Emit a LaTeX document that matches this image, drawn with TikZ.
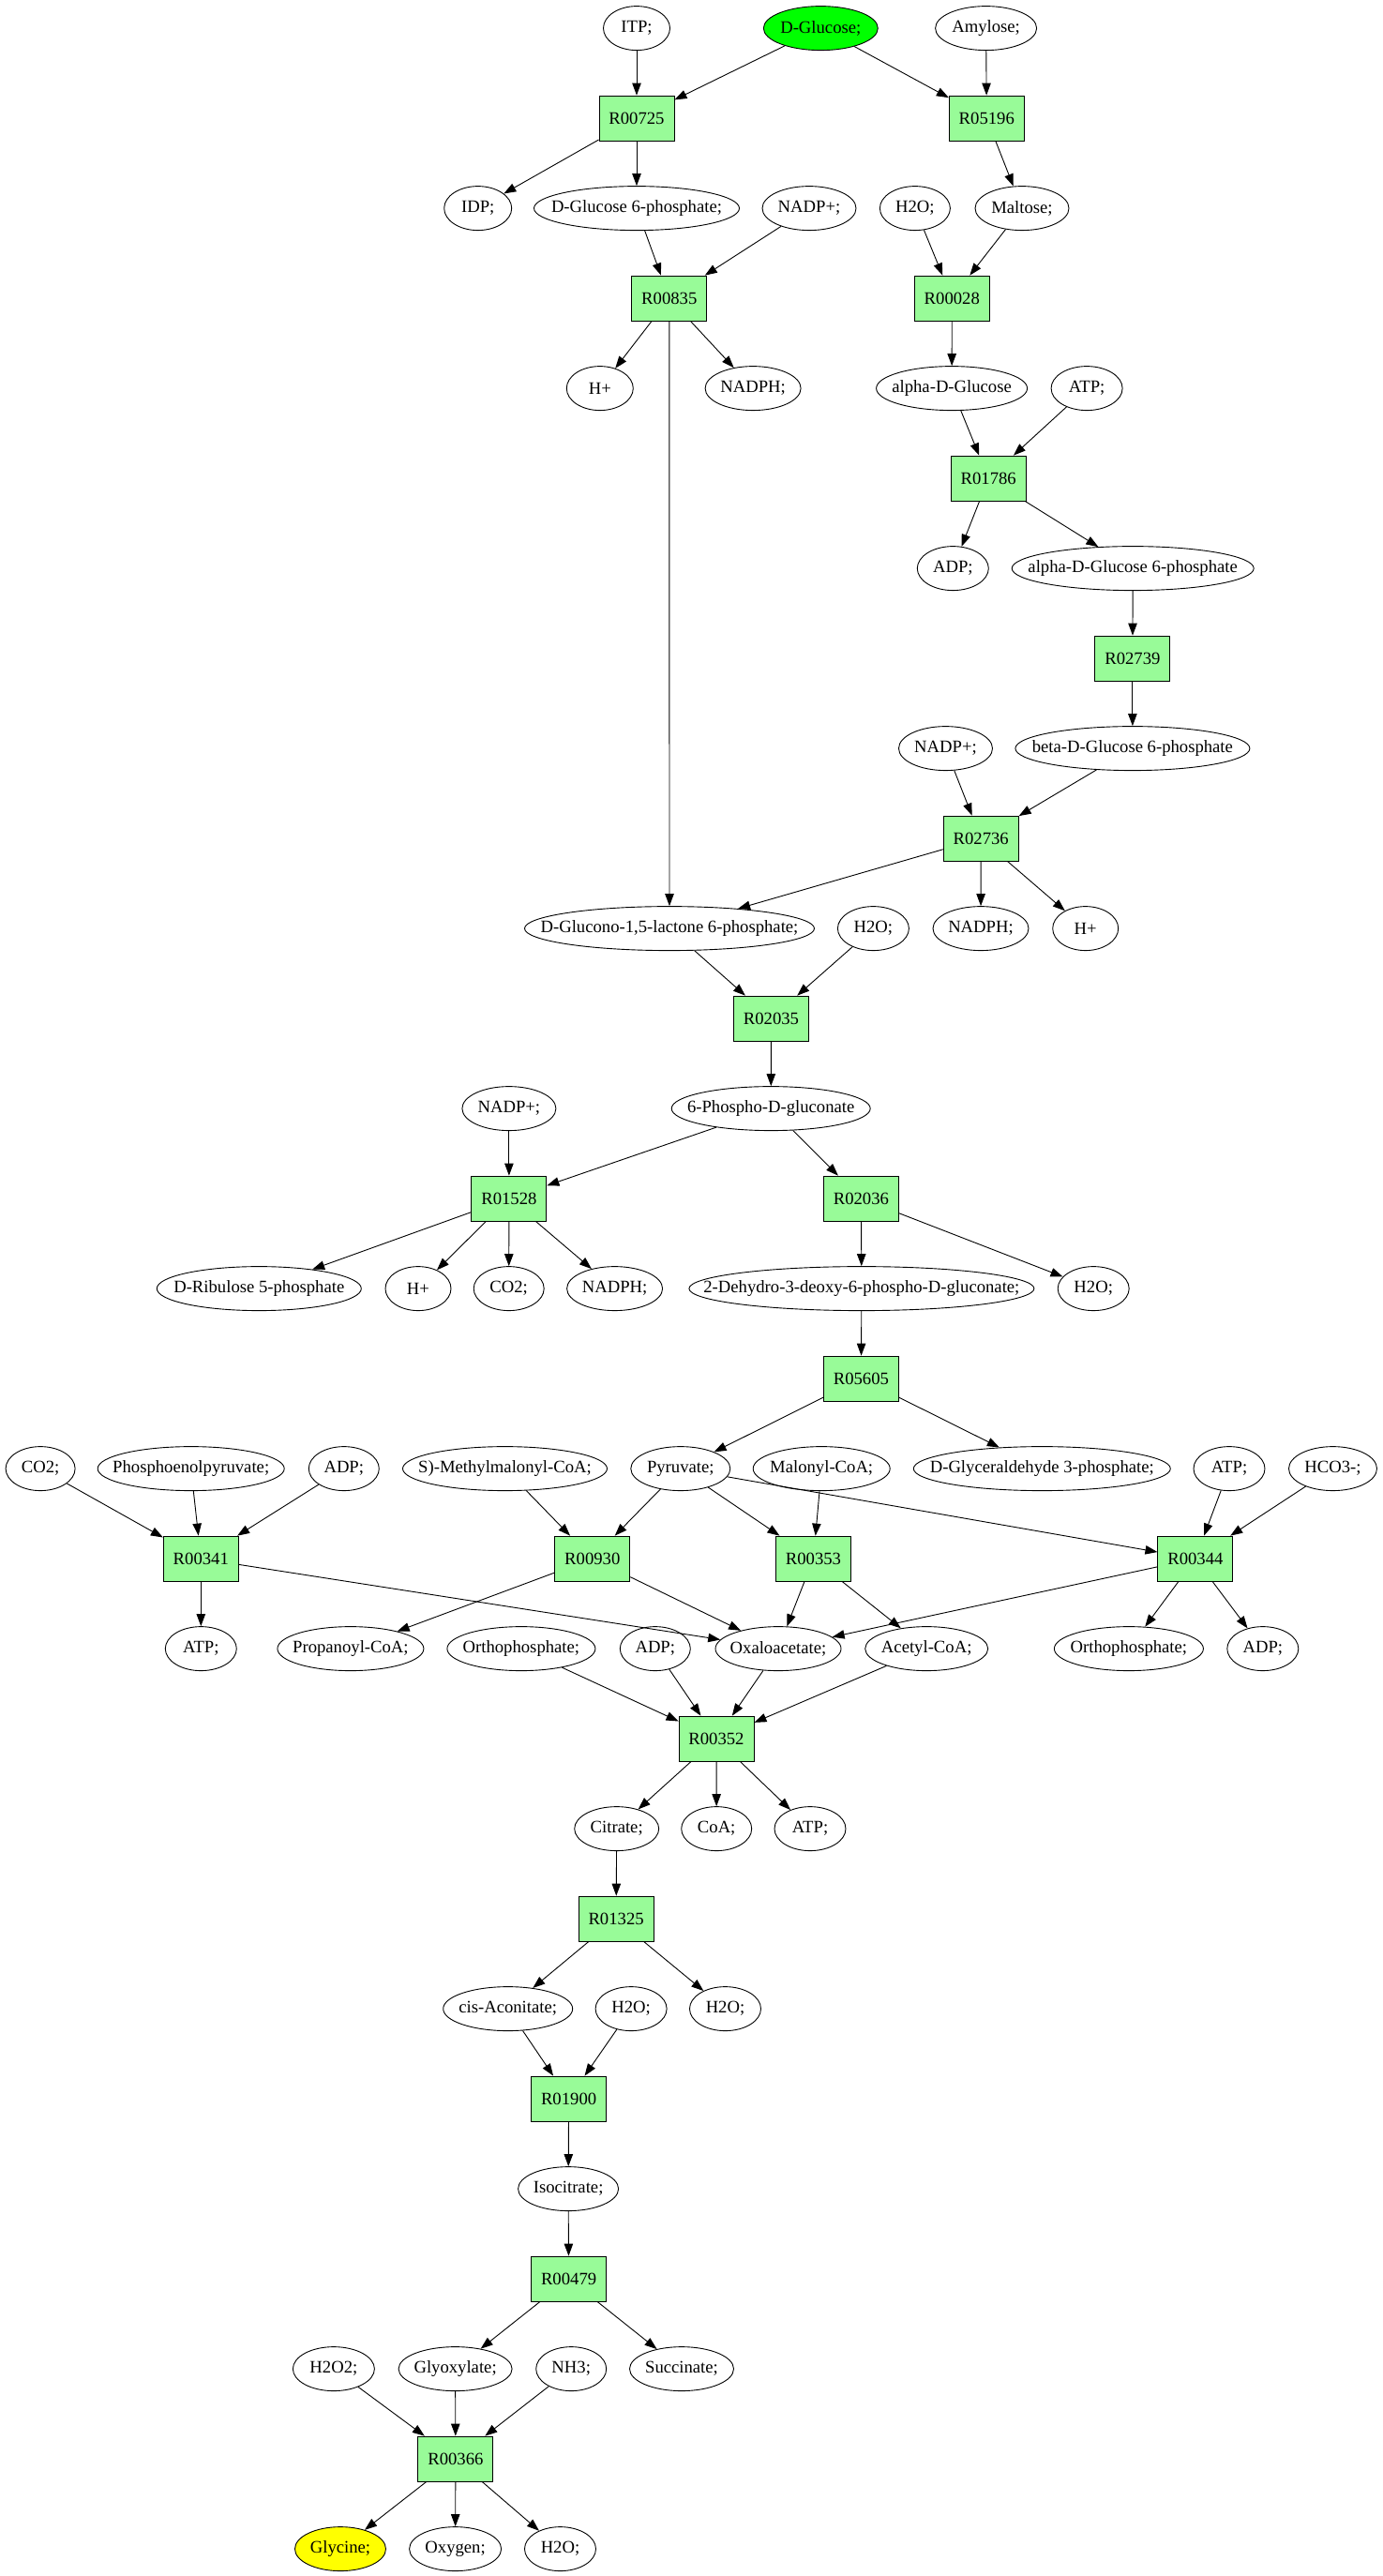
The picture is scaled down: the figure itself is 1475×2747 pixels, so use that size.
\documentclass[tikz,border=0pt]{standalone}
\usepackage{fontspec}
\setmainfont{Liberation Serif}
\usetikzlibrary{arrows.meta,shapes.geometric}
\definecolor{palegreen}{HTML}{98FB98}
\definecolor{pgreen}{HTML}{00FF00}
\definecolor{pyellow}{HTML}{FFFF00}
\newcommand{\mtxt}[1]{\makebox[0pt]{#1}}
\begin{document}
\begin{tikzpicture}[x=1pt,y=-1pt,
  met/.style={ellipse, draw, line width=0.9pt, inner sep=0pt, minimum height=47pt, font=\fontsize{18.67}{22}\selectfont},
  rxn/.style={rectangle, draw, fill=palegreen, line width=0.9pt, inner sep=0pt, minimum width=80pt, minimum height=48pt, font=\fontsize{18.67}{22}\selectfont},
  edge/.style={draw, line width=0.9pt, -{Triangle[length=13pt,width=9.4pt]}}]
\useasboundingbox (0,0) rectangle (1475,2747);
% row 1
\node[met, minimum width=71pt] (itp) at (679,30.1) {\mtxt{ITP;}};
\node[met, minimum width=122pt, fill=pgreen] (dglc) at (875.3,30.1) {\mtxt{D-Glucose;}};
\node[met, minimum width=108pt] (amyl) at (1051.6,30.1) {\mtxt{Amylose;}};
% row 2
\node[rxn] (r00725) at (679,126.1) {R00725};
\node[rxn] (r05196) at (1052.3,126.1) {R05196};
% row 3
\node[met, minimum width=72pt] (idp) at (509.7,222.1) {\mtxt{IDP;}};
\node[met, minimum width=219pt] (dg6p) at (679,222.1) {\mtxt{D-Glucose 6-phosphate;}};
\node[met, minimum width=100pt] (nadpa) at (863,222.1) {\mtxt{NADP+;}};
\node[met, minimum width=75pt] (h2oa) at (975.9,222.1) {\mtxt{H2O;}};
\node[met, minimum width=100pt] (malt) at (1090,222.1) {\mtxt{Maltose;}};
% row 4
\node[rxn] (r00835) at (713.8,318.1) {R00835};
\node[rxn] (r00028) at (1015.3,318.1) {R00028};
% row 5
\node[met, minimum width=71pt] (hpa) at (639.8,414.1) {\mtxt{H+}};
\node[met, minimum width=102pt] (nadpha) at (803.1,414.1) {\mtxt{NADPH;}};
\node[met, minimum width=161pt] (adglc) at (1015.1,414.1) {\mtxt{alpha-D-Glucose}};
\node[met, minimum width=76pt] (atpa) at (1159.1,414.1) {\mtxt{ATP;}};
% row 6
\node[rxn] (r01786) at (1054.2,510.1) {R01786};
% row 7
\node[met, minimum width=76pt] (adpa) at (1016.3,606.1) {\mtxt{ADP;}};
\node[met, minimum width=258pt] (adg6p) at (1208.2,606.1) {\mtxt{alpha-D-Glucose 6-phosphate}};
% row 8
\node[rxn] (r02739) at (1207.9,702.1) {R02739};
% row 9
\node[met, minimum width=100pt] (nadpb) at (1008.5,798.1) {\mtxt{NADP+;}};
\node[met, minimum width=250pt] (bdg6p) at (1207.9,798.1) {\mtxt{beta-D-Glucose 6-phosphate}};
% row 10
\node[rxn] (r02736) at (1046.2,894.1) {R02736};
% row 11
\node[met, minimum width=309pt] (glcl) at (714,990.1) {\mtxt{D-Glucono-1,5-lactone 6-phosphate;}};
\node[met, minimum width=76pt] (h2ob) at (931.4,990.1) {\mtxt{H2O;}};
\node[met, minimum width=102pt] (nadphb) at (1046,990.1) {\mtxt{NADPH;}};
\node[met, minimum width=70pt] (hpb) at (1157.7,990.1) {\mtxt{H+}};
% row 12
\node[rxn] (r02035) at (822.5,1086.1) {R02035};
% row 13
\node[met, minimum width=100pt] (nadpc) at (542.9,1182.1) {\mtxt{NADP+;}};
\node[met, minimum width=212pt] (pgl) at (822.2,1182.1) {\mtxt{6-Phospho-D-gluconate}};
% row 14
\node[rxn] (r01528) at (542.9,1278.1) {R01528};
\node[rxn] (r02036) at (918.4,1278.1) {R02036};
% row 15
\node[met, minimum width=218pt] (rib) at (276.3,1374.1) {\mtxt{D-Ribulose 5-phosphate}};
\node[met, minimum width=70pt] (hpc) at (446,1374.1) {\mtxt{H+}};
\node[met, minimum width=75pt] (co2a) at (542.7,1374.1) {\mtxt{CO2;}};
\node[met, minimum width=102pt] (nadphc) at (655.6,1374.1) {\mtxt{NADPH;}};
\node[met, minimum width=368pt] (kdpg) at (918.9,1374.1) {\mtxt{2-Dehydro-3-deoxy-6-phospho-D-gluconate;}};
\node[met, minimum width=76pt] (h2oc) at (1166.2,1374.1) {\mtxt{H2O;}};
% row 16
\node[rxn] (r05605) at (918.4,1470.1) {R05605};
% row 17
\node[met, minimum width=74pt] (co2b) at (43.1,1566.1) {\mtxt{CO2;}};
\node[met, minimum width=199pt] (pep) at (203.7,1566.1) {\mtxt{Phosphoenolpyruvate;}};
\node[met, minimum width=75pt] (adpb) at (366.8,1566.1) {\mtxt{ADP;}};
\node[met, minimum width=218pt] (mmcoa) at (538.5,1566.1) {\mtxt{S)-Methylmalonyl-CoA;}};
\node[met, minimum width=106pt] (pyr) at (725.8,1566.1) {\mtxt{Pyruvate;}};
\node[met, minimum width=146pt] (malcoa) at (876.2,1566.1) {\mtxt{Malonyl-CoA;}};
\node[met, minimum width=274pt] (gap) at (1111.3,1566.1) {\mtxt{D-Glyceraldehyde 3-phosphate;}};
\node[met, minimum width=76pt] (atpb) at (1311,1566.1) {\mtxt{ATP;}};
\node[met, minimum width=94pt] (hco3) at (1421.5,1566.1) {\mtxt{HCO3-;}};
% row 18
\node[rxn] (r00341) at (214.3,1662.1) {R00341};
\node[rxn] (r00930) at (631.8,1662.1) {R00930};
\node[rxn] (r00353) at (867.5,1662.1) {R00353};
\node[rxn] (r00344) at (1274.9,1662.1) {R00344};
% row 19
\node[met, minimum width=76pt] (atpc) at (214.3,1758.1) {\mtxt{ATP;}};
\node[met, minimum width=156pt] (propcoa) at (373.9,1758.1) {\mtxt{Propanoyl-CoA;}};
\node[met, minimum width=158pt] (pia) at (555.9,1758.1) {\mtxt{Orthophosphate;}};
\node[met, minimum width=75pt] (adpc) at (698.8,1758.1) {\mtxt{ADP;}};
\node[met, minimum width=134pt] (oaa) at (830,1758.1) {\mtxt{Oxaloacetate;}};
\node[met, minimum width=131pt] (accoa) at (988.2,1758.1) {\mtxt{Acetyl-CoA;}};
\node[met, minimum width=159pt] (pib) at (1203.9,1758.1) {\mtxt{Orthophosphate;}};
\node[met, minimum width=76pt] (adpd) at (1346.8,1758.1) {\mtxt{ADP;}};
% row 20
\node[rxn] (r00352) at (764,1854.1) {R00352};
% row 21
\node[met, minimum width=90pt] (cit) at (657.7,1950.1) {\mtxt{Citrate;}};
\node[met, minimum width=75pt] (coa) at (764.2,1950.1) {\mtxt{CoA;}};
\node[met, minimum width=76pt] (atpd) at (864,1950.1) {\mtxt{ATP;}};
% row 22
\node[rxn] (r01325) at (657.1,2046.1) {R01325};
% row 23
\node[met, minimum width=138pt] (cisa) at (541.7,2142.1) {\mtxt{cis-Aconitate;}};
\node[met, minimum width=76pt] (h2od) at (673.1,2142.1) {\mtxt{H2O;}};
\node[met, minimum width=76pt] (h2oe) at (773.5,2142.1) {\mtxt{H2O;}};
% row 24
\node[rxn] (r01900) at (606.6,2238.1) {R01900};
% row 25
\node[met, minimum width=107pt] (icit) at (606.1,2334.1) {\mtxt{Isocitrate;}};
% row 26
\node[rxn] (r00479) at (606.6,2430.1) {R00479};
% row 27
\node[met, minimum width=87pt] (hoh) at (355.9,2526.1) {\mtxt{H2O2;}};
\node[met, minimum width=121pt] (glyox) at (485.6,2526.1) {\mtxt{Glyoxylate;}};
\node[met, minimum width=75pt] (nh3) at (609.2,2526.1) {\mtxt{NH3;}};
\node[met, minimum width=111pt] (succ) at (727,2526.1) {\mtxt{Succinate;}};
% row 28
\node[rxn] (r00366) at (485.9,2622.1) {R00366};
% row 29
\node[met, minimum width=97pt, fill=pyellow] (gly) at (363,2718.1) {\mtxt{Glycine;}};
\node[met, minimum width=98pt] (oxy) at (485.6,2718.1) {\mtxt{Oxygen;}};
\node[met, minimum width=76pt] (h2of) at (597.5,2718.1) {\mtxt{H2O;}};
% edges
\draw[edge] (itp) -- (r00725);
\draw[edge] (dglc) -- (r00725);
\draw[edge] (dglc) -- (r05196);
\draw[edge] (amyl) -- (r05196);
\draw[edge] (r00725) -- (idp);
\draw[edge] (r00725) -- (dg6p);
\draw[edge] (dg6p) -- (r00835);
\draw[edge] (nadpa) -- (r00835);
\draw[edge] (r05196) -- (malt);
\draw[edge] (h2oa) -- (r00028);
\draw[edge] (malt) -- (r00028);
\draw[edge] (r00835) -- (hpa);
\draw[edge] (r00835) -- (nadpha);
\draw[edge] (r00835) -- (glcl);
\draw[edge] (r00028) -- (adglc);
\draw[edge] (adglc) -- (r01786);
\draw[edge] (atpa) -- (r01786);
\draw[edge] (r01786) -- (adpa);
\draw[edge] (r01786) -- (adg6p);
\draw[edge] (adg6p) -- (r02739);
\draw[edge] (r02739) -- (bdg6p);
\draw[edge] (nadpb) -- (r02736);
\draw[edge] (bdg6p) -- (r02736);
\draw[edge] (r02736) -- (glcl);
\draw[edge] (r02736) -- (nadphb);
\draw[edge] (r02736) -- (hpb);
\draw[edge] (glcl) -- (r02035);
\draw[edge] (h2ob) -- (r02035);
\draw[edge] (r02035) -- (pgl);
\draw[edge] (nadpc) -- (r01528);
\draw[edge] (pgl) -- (r01528);
\draw[edge] (pgl) -- (r02036);
\draw[edge] (r01528) -- (rib);
\draw[edge] (r01528) -- (hpc);
\draw[edge] (r01528) -- (co2a);
\draw[edge] (r01528) -- (nadphc);
\draw[edge] (r02036) -- (kdpg);
\draw[edge] (r02036) -- (h2oc);
\draw[edge] (kdpg) -- (r05605);
\draw[edge] (r05605) -- (pyr);
\draw[edge] (r05605) -- (gap);
\draw[edge] (co2b) -- (r00341);
\draw[edge] (pep) -- (r00341);
\draw[edge] (adpb) -- (r00341);
\draw[edge] (r00341) -- (atpc);
\draw[edge] (r00341) -- (oaa);
\draw[edge] (mmcoa) -- (r00930);
\draw[edge] (pyr) -- (r00930);
\draw[edge] (pyr) -- (r00353);
\draw[edge] (pyr) -- (r00344);
\draw[edge] (malcoa) -- (r00353);
\draw[edge] (atpb) -- (r00344);
\draw[edge] (hco3) -- (r00344);
\draw[edge] (r00930) -- (propcoa);
\draw[edge] (r00930) -- (oaa);
\draw[edge] (r00353) -- (oaa);
\draw[edge] (r00353) -- (accoa);
\draw[edge] (r00344) -- (oaa);
\draw[edge] (r00344) -- (pib);
\draw[edge] (r00344) -- (adpd);
\draw[edge] (pia) -- (r00352);
\draw[edge] (adpc) -- (r00352);
\draw[edge] (oaa) -- (r00352);
\draw[edge] (accoa) -- (r00352);
\draw[edge] (r00352) -- (cit);
\draw[edge] (r00352) -- (coa);
\draw[edge] (r00352) -- (atpd);
\draw[edge] (cit) -- (r01325);
\draw[edge] (r01325) -- (cisa);
\draw[edge] (r01325) -- (h2oe);
\draw[edge] (cisa) -- (r01900);
\draw[edge] (h2od) -- (r01900);
\draw[edge] (r01900) -- (icit);
\draw[edge] (icit) -- (r00479);
\draw[edge] (r00479) -- (glyox);
\draw[edge] (r00479) -- (succ);
\draw[edge] (hoh) -- (r00366);
\draw[edge] (glyox) -- (r00366);
\draw[edge] (nh3) -- (r00366);
\draw[edge] (r00366) -- (gly);
\draw[edge] (r00366) -- (oxy);
\draw[edge] (r00366) -- (h2of);
\end{tikzpicture}
\end{document}
